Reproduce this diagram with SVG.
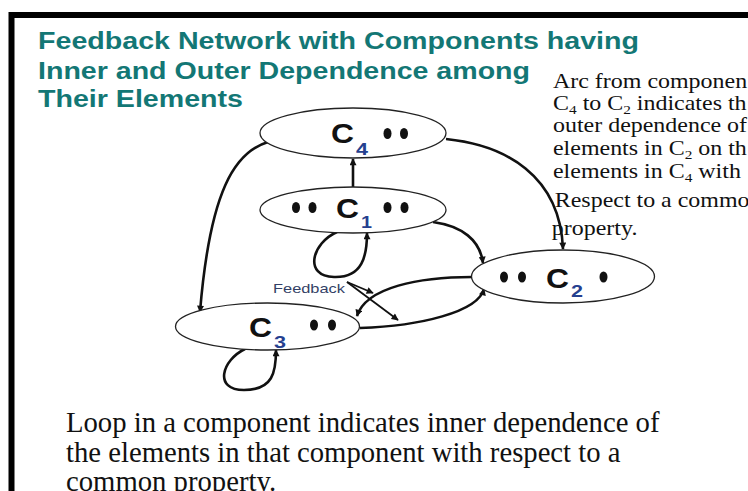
<svg xmlns="http://www.w3.org/2000/svg" width="748" height="491" viewBox="0 0 748 491">
<style>
.title{font-family:"Liberation Sans",Arial,sans-serif;font-weight:bold;font-size:23px;fill:#137775}
.serif{font-family:"Liberation Serif","Times New Roman",serif;fill:#111}
.node{fill:#fff;stroke:#222;stroke-width:1.3}
.lbl{font-family:"Liberation Sans",Arial,sans-serif;font-weight:bold;font-size:28px;fill:#111}
.sub{font-family:"Liberation Sans",Arial,sans-serif;font-weight:bold;font-size:17px;fill:#25408f}
.dot{fill:#111}
.conn{fill:none;stroke:#111;stroke-width:2.6;marker-end:url(#ah)}
.fb{fill:none;stroke:#111;stroke-width:1.8;marker-end:url(#ah)}
</style>
<defs>
<marker id="ah" viewBox="0 0 10 10" refX="9" refY="5" markerWidth="8" markerHeight="7" markerUnits="userSpaceOnUse" orient="auto"><path d="M0,0 L10,5 L0,10 z" fill="#111"/></marker>
</defs>
<rect x="0" y="0" width="748" height="491" fill="#fff"/>
<rect x="11.5" y="15" width="800" height="600" fill="#fff" stroke="#000" stroke-width="6"/>

<g id="title">
<text class="title" x="38" y="49" textLength="601" lengthAdjust="spacingAndGlyphs">Feedback Network with Components having</text>
<text class="title" x="38" y="79" textLength="492" lengthAdjust="spacingAndGlyphs">Inner and Outer Dependence among</text>
<text class="title" x="38" y="107" textLength="205" lengthAdjust="spacingAndGlyphs">Their Elements</text>
</g>

<g id="connectors">
<path class="conn" d="M353,187 L353,159"/>
<path class="conn" d="M268,142 C235,152 210,190 200,312"/>
<path class="conn" d="M446,139 C505,145 560,175 563,249"/>
<path class="conn" d="M433,222 C462,226 480,240 483,263"/>
<path class="conn" d="M472,277 C420,277 366,287 357,316"/>
<path class="conn" d="M360,328 C420,326 478,312 484,289"/>
<path class="conn" d="M337,232 C312,243 303,276 334,277 C363,278 367,255 367,233"/>
<path class="conn" d="M245,349 C222,360 213,390 244,390 C273,390 276,372 276,350"/>
<path class="fb" d="M347,282 L373,293"/>
<path class="fb" d="M347,282 L398,320"/>
</g>

<g id="node-c4">
<ellipse class="node" cx="353" cy="133" rx="93" ry="25"/>
<text class="lbl" x="331" y="143" textLength="23" lengthAdjust="spacingAndGlyphs">C</text>
<text class="sub" x="356" y="155" textLength="12" lengthAdjust="spacingAndGlyphs">4</text>
<ellipse class="dot" cx="387.5" cy="133.5" rx="4" ry="5.5"/>
<ellipse class="dot" cx="404" cy="133.5" rx="4" ry="5.5"/>
</g>

<g id="node-c1">
<ellipse class="node" cx="353" cy="210" rx="93" ry="23"/>
<ellipse class="dot" cx="296" cy="207.5" rx="4" ry="5.5"/>
<ellipse class="dot" cx="312.5" cy="207.5" rx="4" ry="5.5"/>
<text class="lbl" x="336" y="218" textLength="23" lengthAdjust="spacingAndGlyphs">C</text>
<text class="sub" x="361" y="228" textLength="11" lengthAdjust="spacingAndGlyphs">1</text>
<ellipse class="dot" cx="387.5" cy="207.5" rx="4" ry="5.5"/>
<ellipse class="dot" cx="404.5" cy="207.5" rx="4" ry="5.5"/>
</g>

<g id="node-c2">
<ellipse class="node" cx="563" cy="276.5" rx="91.5" ry="26.5"/>
<ellipse class="dot" cx="504" cy="277" rx="4" ry="5.5"/>
<ellipse class="dot" cx="522" cy="277" rx="4" ry="5.5"/>
<text class="lbl" x="546" y="288" textLength="23" lengthAdjust="spacingAndGlyphs">C</text>
<text class="sub" x="571" y="297" textLength="12" lengthAdjust="spacingAndGlyphs">2</text>
<ellipse class="dot" cx="603.5" cy="277" rx="4" ry="5.5"/>
</g>

<g id="node-c3">
<ellipse class="node" cx="267.5" cy="326.5" rx="92" ry="23.5"/>
<text class="lbl" x="249" y="337" textLength="23" lengthAdjust="spacingAndGlyphs">C</text>
<text class="sub" x="274" y="348" textLength="12" lengthAdjust="spacingAndGlyphs">3</text>
<ellipse class="dot" cx="314" cy="325" rx="4" ry="5.5"/>
<ellipse class="dot" cx="332" cy="325" rx="4" ry="5.5"/>
</g>

<g id="feedback-label">
<text x="273" y="293" textLength="72" lengthAdjust="spacingAndGlyphs" style="font-family:'Liberation Sans',Arial,sans-serif;font-size:13.5px;fill:#333f66">Feedback</text>
</g>

<g id="arc-note" transform="translate(553 0) scale(1.18 1)" class="serif" font-size="20.3">
<text x="0" y="88">Arc from componen</text>
<text x="0" y="110">C<tspan font-size="13" dy="4">4</tspan><tspan dy="-4"> to C</tspan><tspan font-size="13" dy="4">2</tspan><tspan dy="-4"> indicates th</tspan></text>
<text x="0" y="132">outer dependence of</text>
<text x="0" y="155">elements in C<tspan font-size="13" dy="4">2</tspan><tspan dy="-4"> on th</tspan></text>
<text x="0" y="178">elements in C<tspan font-size="13" dy="4">4</tspan><tspan dy="-4"> with</tspan></text>
<text x="1.5" y="207">Respect to a commo</text>
<text x="-1" y="235">property.</text>
</g>

<g id="loop-note" class="serif" font-size="28.7">
<text x="66" y="432">Loop in a component indicates inner dependence of</text>
<text x="66" y="462">the elements in that component with respect to a</text>
<text x="66" y="491">common property.</text>
</g>
</svg>
